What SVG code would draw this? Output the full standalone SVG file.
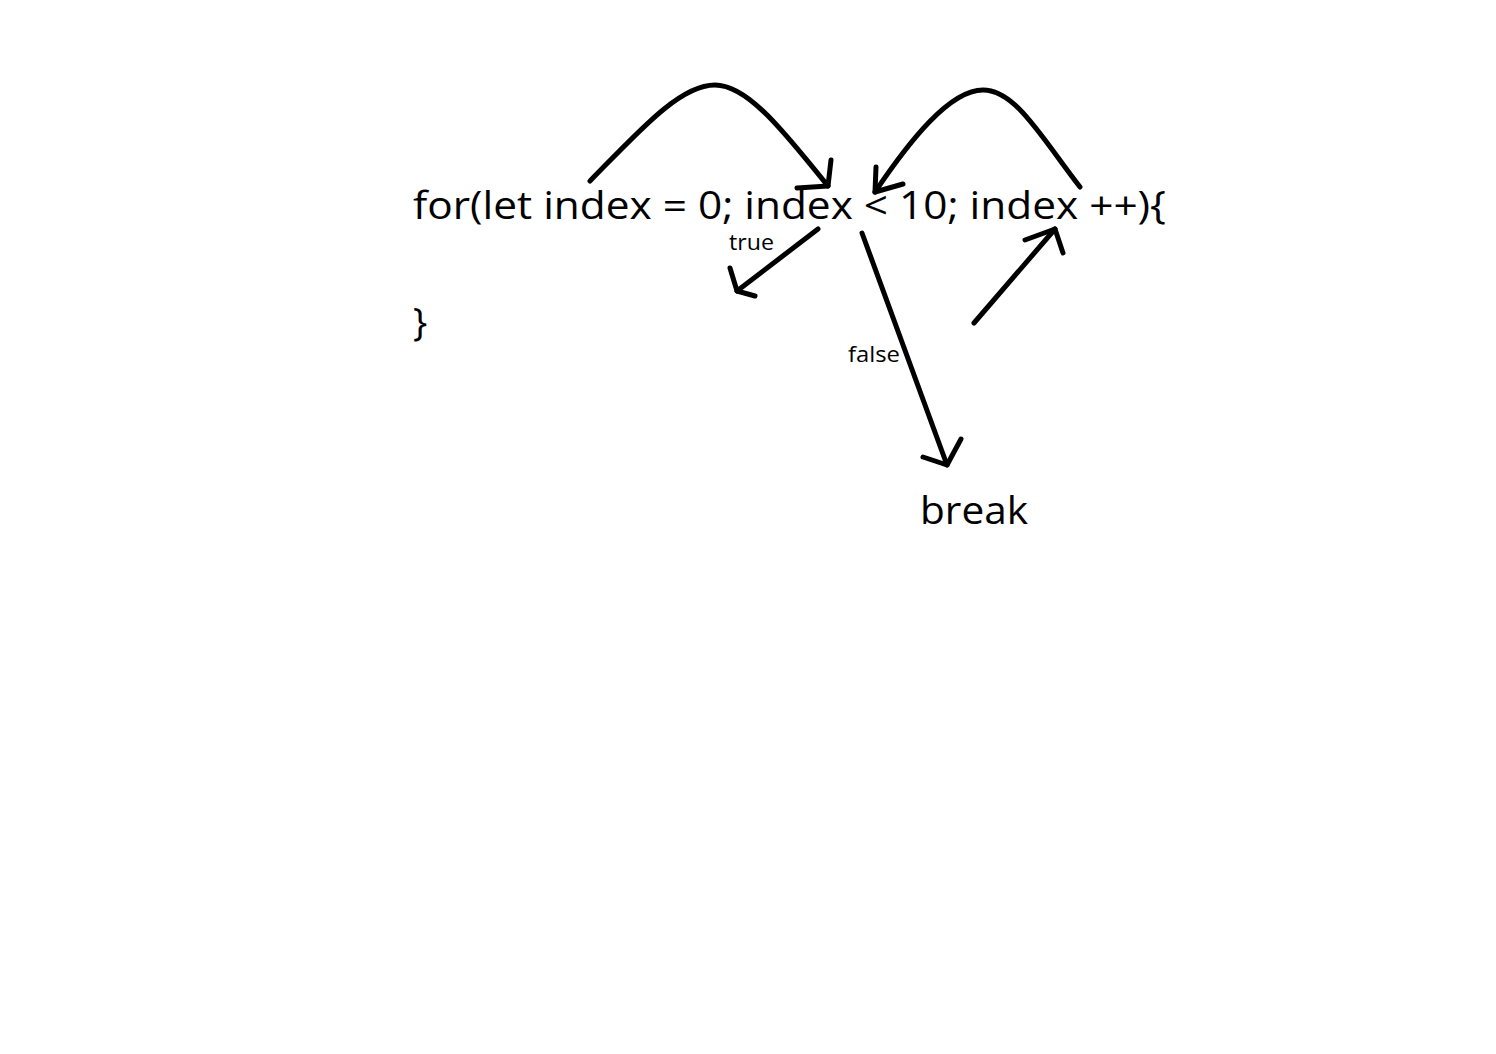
<svg xmlns="http://www.w3.org/2000/svg" width="1496" height="1054" viewBox="0 0 1496 1054">
<style>
.big{font-family:"Open Sans","Noto Sans","DejaVu Sans",sans-serif;font-size:38px;fill:#000}
.small{font-family:"Open Sans","Noto Sans","DejaVu Sans",sans-serif;font-size:21px;fill:#000}
.c{fill:none;stroke:#000;stroke-width:5;stroke-linecap:round;stroke-linejoin:round}
</style>
<rect width="1496" height="1054" fill="#fff"/>
<g id="for-line"><text class="big" x="413" y="219" textLength="753" lengthAdjust="spacingAndGlyphs">for(let index = 0; index &lt; 10; index ++){</text></g>
<g id="close-brace"><text class="big" x="413" y="336">}</text></g>
<g id="break"><text class="big" x="920" y="524" textLength="108" lengthAdjust="spacingAndGlyphs">break</text></g>
<g id="label-true"><text class="small" x="729" y="250" textLength="45" lengthAdjust="spacingAndGlyphs">true</text></g>
<g id="label-false"><text class="small" x="848" y="362" textLength="52" lengthAdjust="spacingAndGlyphs">false</text></g>
<g id="connectors">
<path class="c" d="M590,181 C640,130 680,85 715,85 C750,85 790,140 828,186"/>
<path class="c" d="M831,160 L828,186 L797,188"/>
<path class="c" d="M1080,187 C1040,135 1015,90 983,90 C950,90 910,140 875,192"/>
<path class="c" d="M876,167 L875,192 L903,184"/>
<path class="c" d="M818,229 L737,291"/>
<path class="c" d="M730,268 L737,291 L755,296"/>
<path class="c" d="M862,233 L947,465"/>
<path class="c" d="M923,457 L947,465 L961,439"/>
<path class="c" d="M974,323 L1055,229"/>
<path class="c" d="M1025,240 L1055,229 L1063,253"/>
</g>
</svg>
